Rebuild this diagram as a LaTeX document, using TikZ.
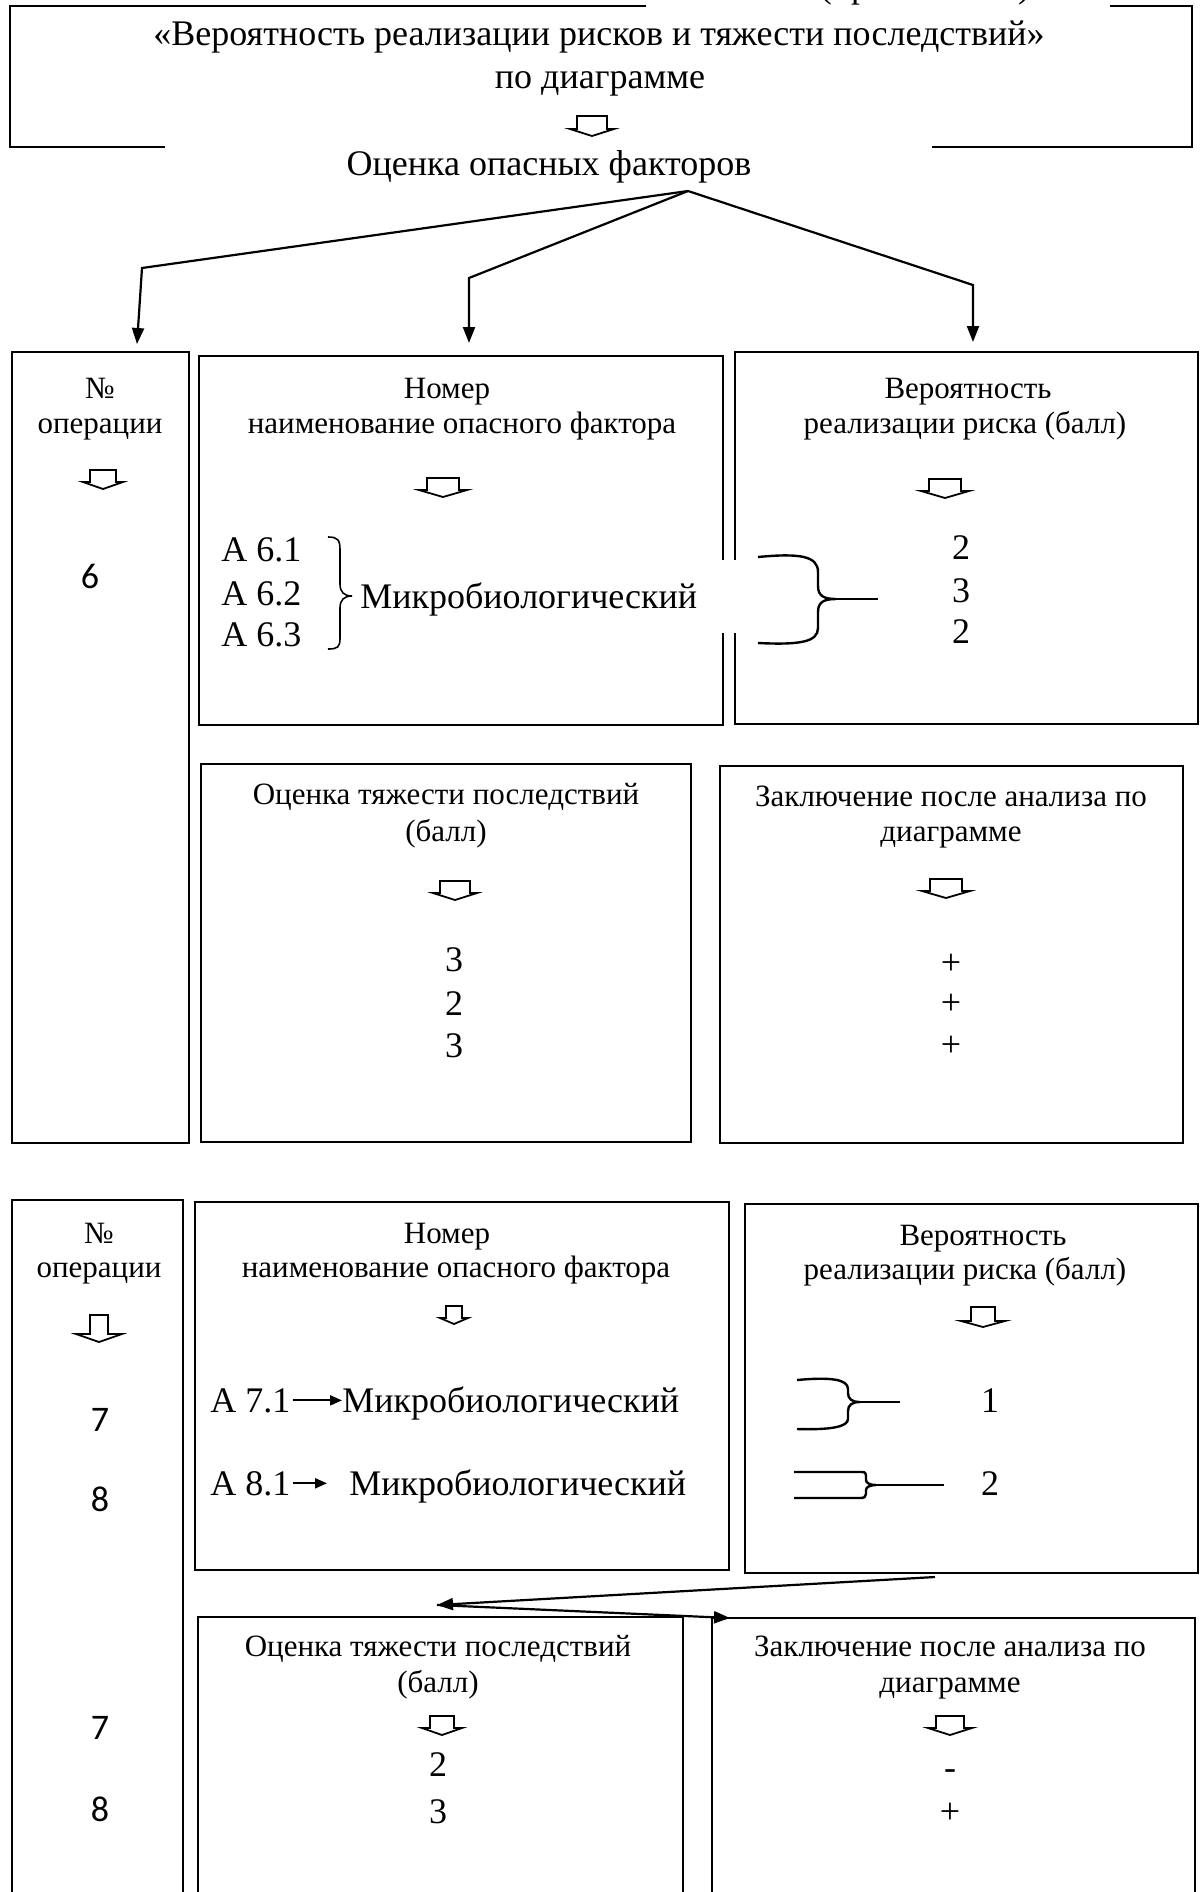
\documentclass[tikz,border=0pt]{standalone}
\usepackage{fontspec}
\setmainfont{Liberation Serif}
\newfontfamily\digitfont{Carlito}
\usetikzlibrary{arrows.meta}

\begin{document}
\begin{tikzpicture}[x=0.5pt,y=-0.5pt,
  box/.style={draw, line width=1.1pt},
  link/.style={line width=1.1pt, -{Triangle[length=8pt,width=6pt]}},
  head/.style={font=\fontsize{15.5}{18}\selectfont, anchor=base, inner sep=0pt},
  big/.style={font=\fontsize{18}{21}\selectfont, anchor=base, inner sep=0pt},
  num/.style={font=\digitfont\fontsize{18}{21}\selectfont, anchor=base, inner sep=0pt},
  brace/.style={line width=0.8pt},
  bigbrace/.style={line width=1.2pt},
  pics/darrow/.style n args={4}{code={
     \draw[line width=0.9pt, fill=white] (-#1,0) -- (#1,0) -- (#1,#2) -- (#3,#2)
        -- (0,#2+#4) -- (-#3,#2) -- (-#1,#2) -- cycle;}}
]
\useasboundingbox (0,0) rectangle (1202,1892);

% ---------- heading frame ----------
\draw[box] (646,6) -- (10,6) -- (10,147) -- (165,147);
\draw[box] (1110,6) -- (1192,6) -- (1192,147) -- (932,147);
\node[big] (appx) at (925,-3) {(приложение)};
\node[big] (t1) at (599,45) {«Вероятность реализации рисков и тяжести последствий»};
\node[big] (t2) at (600,88) {по диаграмме};
\pic at (592,116) {darrow={15}{13}{22}{7}};
\node[big] (ocenka) at (549,175) {Оценка опасных факторов};

% ---------- branching arrows ----------
\coordinate (apex) at (688,191);
\coordinate (c1) at (142,268); \coordinate (e1) at (137,344);
\coordinate (c2) at (469,278); \coordinate (e2) at (469,343);
\coordinate (c3) at (973,285); \coordinate (e3) at (973,342);
\draw[link] (apex) -- (c1) -- (e1);
\draw[link] (apex) -- (c2) -- (e2);
\draw[link] (apex) -- (c3) -- (e3);

% ---------- block 1: boxes ----------
\draw[box] (12,352) rectangle (189,1143);
\draw[box] (199,356) rectangle (723,725);
\draw[box] (735,352) rectangle (1198,724);
\draw[box] (201,764) rectangle (691,1142);
\draw[box] (720,766) rectangle (1183,1143);

% operation number column
\node[head] (no1) at (100,398) {№};
\node[head] (op1) at (100,433) {операции};
\pic at (103,470) {darrow={13}{12}{20}{7}};
\node[num] (six) at (90,588) {6};

% hazard factor column
\node[head] (nm1) at (447,398) {Номер};
\node[head] (nf1) at (462,433) {наименование опасного фактора};
\pic at (443,478) {darrow={16}{12}{24}{7}};
\node[big, anchor=base west] (a61) at (221,561) {А 6.1};
\node[big, anchor=base west] (a62) at (221,605) {А 6.2};
\node[big, anchor=base west] (a63) at (221,646) {А 6.3};
\draw[brace] (328,537) .. controls (338,537) and (340,540) .. (340,550)
   -- (340,584) .. controls (340,592) and (344,596) .. (352,596)
   .. controls (344,596) and (340,600) .. (340,608)
   -- (340,638) .. controls (340,647) and (338,649) .. (328,649);
\fill[white] (356,560) rectangle (745,633);
\node[big, anchor=base west] (micro1) at (360,608) {Микробиологический};
\draw[bigbrace] (758,557) .. controls (800,553) and (818,556) .. (818,572)
   -- (818,586) .. controls (818,596) and (824,599) .. (836,599)
   .. controls (824,599) and (818,602) .. (818,612)
   -- (818,628) .. controls (818,642) and (800,645) .. (758,643);
\draw[bigbrace] (836,599) -- (878,599);

% probability column
\node[head] (vr1) at (968,398) {Вероятность};
\node[head] (rr1) at (965,433) {реализации риска (балл)};
\pic at (945,479) {darrow={16}{12}{24}{7}};
\node[big] (p11) at (961,559) {2};
\node[big] (p12) at (961,602) {3};
\node[big] (p13) at (961,643) {2};

% severity column
\node[head] (ot1) at (446,804) {Оценка тяжести последствий};
\node[head] (bl1) at (446,841) {(балл)};
\pic at (455,881) {darrow={15}{12}{22}{7}};
\node[big] (s11) at (454,971) {3};
\node[big] (s12) at (454,1015) {2};
\node[big] (s13) at (454,1057) {3};

% conclusion column
\node[head] (zk1) at (951,806) {Заключение после анализа по};
\node[head] (dg1) at (951,841) {диаграмме};
\pic at (946,879) {darrow={16}{12}{24}{7}};
\node[big] (z11) at (951,974) {+};
\node[big] (z12) at (951,1014) {+};
\node[big] (z13) at (951,1056) {+};

% ---------- block 2: boxes ----------
\draw[box] (183,1950) -- (183,1200) -- (12,1200) -- (12,1950);
\draw[box] (195,1202) rectangle (729,1570);
\draw[box] (745,1204) rectangle (1198,1573);
\draw[box] (198,1950) -- (198,1617) -- (683,1617) -- (683,1950);
\draw[box] (712,1950) -- (712,1618) -- (1195,1618) -- (1195,1950);

% operation number column
\node[head] (no2) at (99,1243) {№};
\node[head] (op2) at (99,1277) {операции};
\pic at (99,1315) {darrow={9}{19}{23}{8}};
\node[num] (d7a) at (100,1431) {7};
\node[num] (d8a) at (100,1511) {8};
\node[num] (d7b) at (100,1739) {7};
\node[num] (d8b) at (100,1821) {8};

% hazard factor column
\node[head] (nm2) at (447,1243) {Номер};
\node[head] (nf2) at (456,1277) {наименование опасного фактора};
\pic at (454,1306) {darrow={8}{12}{14}{6}};
\node[big, anchor=base west] (a71) at (210,1412) {А 7.1};
\node[big, anchor=base west] (m71) at (342,1412) {Микробиологический};
\node[big, anchor=base west] (a81) at (210,1495) {А 8.1};
\node[big, anchor=base west] (m81) at (349,1495) {Микробиологический};
\draw[line width=1.1pt, -{Triangle[length=6pt,width=5pt]}] ([xshift=1pt]a71.east) -- (a71.east -| m71.west);
\draw[line width=1.1pt, -{Triangle[length=6pt,width=5pt]}, shorten >=11pt] ([xshift=1pt]a81.east) -- (a81.east -| m81.west);

% probability column
\node[head] (vr2) at (983,1245) {Вероятность};
\node[head] (rr2) at (965,1279) {реализации риска (балл)};
\pic at (983,1307) {darrow={12}{14}{22}{6}};
\draw[bigbrace] (797,1380) .. controls (830,1377) and (848,1379) .. (848,1389)
   -- (848,1393) .. controls (848,1399) and (852,1402) .. (860,1402)
   .. controls (852,1402) and (848,1405) .. (848,1411)
   -- (848,1419) .. controls (848,1427) and (830,1430) .. (797,1429);
\draw[bigbrace] (860,1402) -- (900,1402);
\node[big] (p21) at (990,1412) {1};
\draw[bigbrace] (794,1472) -- (862,1472) .. controls (866,1472) and (866,1474) .. (866,1478)
   -- (866,1480) .. controls (866,1483) and (870,1485) .. (876,1485)
   .. controls (870,1485) and (866,1487) .. (866,1490)
   -- (866,1494) .. controls (866,1497) and (864,1498) .. (860,1498) -- (794,1498);
\draw[bigbrace] (876,1485) -- (944,1485);
\node[big] (p22) at (990,1495) {2};

% forking arrows below the probability box
\coordinate (fs) at (935,1577);
\coordinate (fa) at (437,1605);
\coordinate (fe) at (730,1618);
\draw[link] (fs) -- (fa);
\draw[link] (fa) -- (fe);

% severity column
\node[head] (ot2) at (438,1656) {Оценка тяжести последствий};
\node[head] (bl2) at (438,1692) {(балл)};
\pic at (442,1716) {darrow={12}{12}{20}{7}};
\node[big] (s21) at (438,1776) {2};
\node[big] (s22) at (438,1823) {3};

% conclusion column
\node[head] (zk2) at (950,1656) {Заключение после анализа по};
\node[head] (dg2) at (950,1692) {диаграмме};
\pic at (950,1716) {darrow={14}{12}{22}{7}};
\node[big] (z21) at (950,1779) {-};
\node[big] (z22) at (950,1823) {+};
\end{tikzpicture}
\end{document}
